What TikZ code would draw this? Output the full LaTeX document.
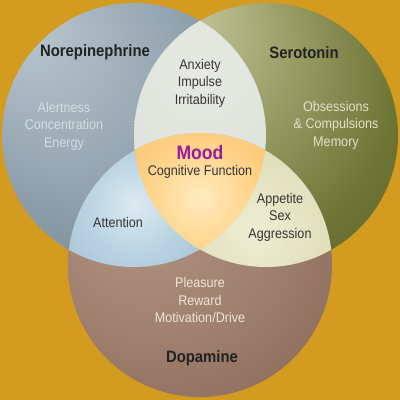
\documentclass[tikz,border=0pt]{standalone}
\usepackage{fontspec}
\setmainfont{Liberation Sans}
\newfontfamily\cond[FakeStretch=0.9]{Liberation Sans}
\definecolor{bg}{HTML}{D39B1F}
\definecolor{neA}{HTML}{BAC7D0}
\definecolor{neB}{HTML}{9AAAB6}
\definecolor{neC}{HTML}{758895}
\definecolor{neD}{HTML}{526576}
\definecolor{sA}{HTML}{D2D2B2}
\definecolor{sB}{HTML}{A8AC78}
\definecolor{sC}{HTML}{6E7636}
\definecolor{sD}{HTML}{48541C}
\definecolor{dA}{HTML}{B69684}
\definecolor{dB}{HTML}{A0806E}
\definecolor{dC}{HTML}{876756}
\definecolor{dD}{HTML}{6C5040}
\definecolor{nsA}{HTML}{E6EAE3}
\definecolor{nsB}{HTML}{DADFD8}
\definecolor{nsC}{HTML}{C0C8C0}
\definecolor{nsD}{HTML}{ABB4AC}
\definecolor{ndA}{HTML}{DCEAF2}
\definecolor{ndB}{HTML}{B8D2E0}
\definecolor{ndC}{HTML}{92B5CA}
\definecolor{ndD}{HTML}{6E93AA}
\definecolor{sdA}{HTML}{EDEDD2}
\definecolor{sdB}{HTML}{DCDCB6}
\definecolor{sdC}{HTML}{BDBD8E}
\definecolor{sdD}{HTML}{A0A070}
\definecolor{mA}{HTML}{FFEBC0}
\definecolor{mB}{HTML}{FFD48A}
\definecolor{mC}{HTML}{F8B45A}
\definecolor{mD}{HTML}{EC9E3C}
\definecolor{txtdark}{HTML}{353535}
\definecolor{titlec}{HTML}{222222}
\definecolor{moodc}{HTML}{9C1AA0}
\definecolor{neT}{HTML}{D6DEE3}
\definecolor{sT}{HTML}{E2E2CC}
\definecolor{dT}{HTML}{F0E4DA}
\pgfdeclareradialshading{shNE}{\pgfpoint{-22bp}{22bp}}{color(0bp)=(neA); color(18bp)=(neB); color(38bp)=(neC); color(50bp)=(neD)}
\pgfdeclareradialshading{shS}{\pgfpoint{-22bp}{26bp}}{color(0bp)=(sA); color(14bp)=(sB); color(32bp)=(sC); color(50bp)=(sD)}
\pgfdeclareradialshading{shD}{\pgfpoint{-15bp}{15bp}}{color(0bp)=(dA); color(22bp)=(dB); color(40bp)=(dC); color(50bp)=(dD)}
\pgfdeclareradialshading{shNS}{\pgfpoint{0bp}{0bp}}{color(0bp)=(nsA); color(20bp)=(nsB); color(40bp)=(nsC); color(50bp)=(nsD)}
\pgfdeclareradialshading{shND}{\pgfpoint{0bp}{0bp}}{color(0bp)=(ndA); color(8bp)=(ndB); color(22bp)=(ndC); color(35bp)=(ndD); color(50bp)=(ndD)}
\pgfdeclareradialshading{shSD}{\pgfpoint{0bp}{0bp}}{color(0bp)=(sdA); color(15bp)=(sdB); color(30bp)=(sdC); color(50bp)=(sdD)}
\pgfdeclareradialshading{shM}{\pgfpoint{0bp}{0bp}}{color(0bp)=(mA); color(8bp)=(mB); color(20bp)=(mC); color(32bp)=(mD); color(50bp)=(mD)}
\tikzset{
  lbl/.style={font=\cond\fontsize{14}{17.5}\selectfont, align=center, text=txtdark, inner sep=0pt},
  ttl/.style={font=\cond\bfseries\fontsize{16.5}{18}\selectfont, text=titlec, inner sep=0pt},
}
\begin{document}
\begin{tikzpicture}[x=1pt,y=-1pt]
\fill[bg] (0,0) rectangle (400,400);
\useasboundingbox (0,0) rectangle (400,400);
\def\R{132pt}
\coordinate (cN) at (134,135);
\coordinate (cS) at (266,135);
\coordinate (cD) at (200,265);
\shade[shading=shNE] (cN) circle[radius=\R];
\shade[shading=shS] (cS) circle[radius=\R];
\shade[shading=shD] (cD) circle[radius=\R];
\begin{scope}
  \clip (cN) circle[radius=\R];
  \clip (cS) circle[radius=\R];
  \shade[shading=shNS] (200,75) circle[radius=180pt];
\end{scope}
\begin{scope}
  \clip (cN) circle[radius=\R];
  \clip (cD) circle[radius=\R];
  \shade[shading=shND] (135,205) circle[radius=160pt];
\end{scope}
\begin{scope}
  \clip (cS) circle[radius=\R];
  \clip (cD) circle[radius=\R];
  \shade[shading=shSD] (255,232) circle[radius=160pt];
\end{scope}
\begin{scope}
  \clip (cN) circle[radius=\R];
  \clip (cS) circle[radius=\R];
  \clip (cD) circle[radius=\R];
  \shade[shading=shM] (200,198) circle[radius=160pt];
\end{scope}
\node[ttl] (tN) at (95,52) {Norepinephrine};
\node[ttl] (tS) at (304,53) {Serotonin};
\node[ttl] (tD) at (202,358) {Dopamine};
\node[lbl, text=neT] (bN) at (64,126) {Alertness\\Concentration\\Energy};
\node[lbl] (bNS) at (200,83) {Anxiety\\Impulse\\Irritability};
\node[lbl, text=sT] (bS) at (336,125) {Obsessions\\\& Compulsions\\Memory};
\node[inner sep=0pt, text=moodc, font=\cond\bfseries\fontsize{19.5}{22}\selectfont] (mood) at (200,153) {Mood};
\node[lbl] (cog) at (200,172) {Cognitive Function};
\node[lbl] (att) at (118,222) {Attention};
\node[lbl] (bSD) at (280,217) {Appetite\\Sex\\Aggression};
\node[lbl, text=dT] (bD) at (200,300) {Pleasure\\Reward\\Motivation/Drive};
\end{tikzpicture}
\end{document}
